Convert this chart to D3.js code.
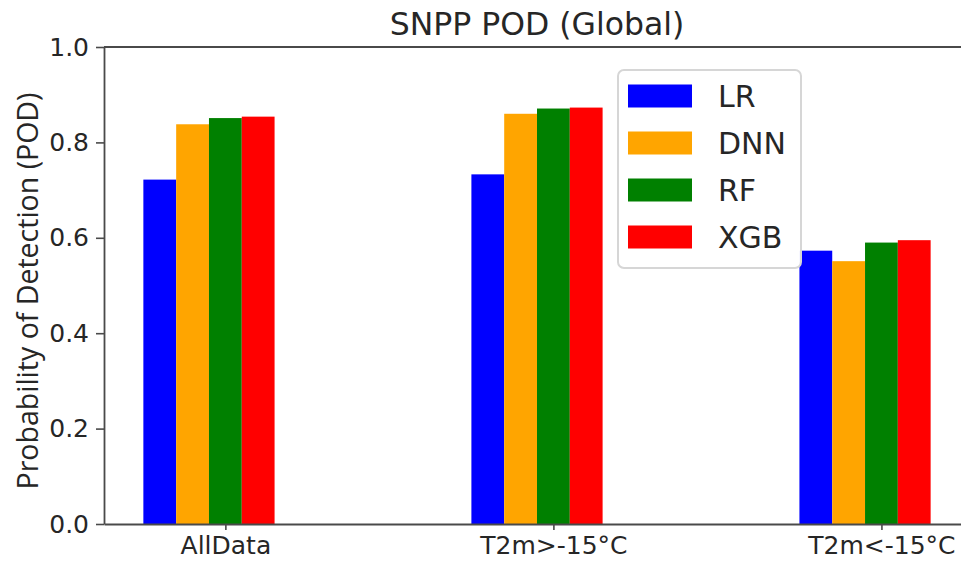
<!DOCTYPE html>
<html>
<head>
<meta charset="utf-8">
<script src="https://cdn.jsdelivr.net/npm/d3@7/dist/d3.min.js"></script>
<style>
  html, body { margin: 0; padding: 0; background: #fff; }
  svg { display: block; }
</style>
</head>
<body>
<svg id="chart" width="961" height="561"></svg>
<script>
const categories = ["AllData", "T2m>-15°C", "T2m<-15°C"];
const seriesNames = ["LR", "DNN", "RF", "XGB"];
const seriesColors = ["#0000ff", "#ffa500", "#008000", "#ff0000"];
const LR  = [0.722, 0.733, 0.573];
const DNN = [0.838, 0.860, 0.551];
const RF  = [0.851, 0.871, 0.590];
const XGB = [0.854, 0.873, 0.595];
const yTicks = [0.0, 0.2, 0.4, 0.6, 0.8, 1.0];
const titleText = "SNPP POD (Global)";
const yLabelText = "Probability of Detection (POD)";

const seriesValues = [LR, DNN, RF, XGB];
const barW = 0.1;

const svg = d3.select("#chart");
const mLeft = 104, mRight = 970, mTop = 47, mBottom = 524;

const x = d3.scaleLinear().domain([-0.37, 2.27]).range([mLeft, mRight]);
const y = d3.scaleLinear().domain([0, 1]).range([mBottom, mTop]);

const textColor = "#262626";
const axisColor = "#4a4a4a";

// bars
seriesValues.forEach((vals, j) => {
  svg.append("g").selectAll("rect")
    .data(vals)
    .join("rect")
    .attr("x", (d, i) => x(i + (j - 2) * barW - barW / 2))
    .attr("width", x(barW) - x(0))
    .attr("y", d => y(d))
    .attr("height", d => y(0) - y(d))
    .attr("fill", seriesColors[j]);
});

// spines
svg.append("line").attr("x1", mLeft).attr("x2", mRight).attr("y1", mTop).attr("y2", mTop)
  .attr("stroke", axisColor).attr("stroke-width", 1.8);
svg.append("line").attr("x1", mRight).attr("x2", mRight).attr("y1", mTop).attr("y2", mBottom)
  .attr("stroke", axisColor).attr("stroke-width", 1.8);

// y axis
const yAxis = d3.axisLeft(y).tickValues(yTicks).tickFormat(d3.format(".1f"))
  .tickSize(8).tickSizeOuter(0).tickPadding(7);
const gy = svg.append("g").attr("transform", `translate(${mLeft},0)`).call(yAxis);
gy.select(".domain").attr("stroke", axisColor).attr("stroke-width", 1.8);
gy.selectAll(".tick line").attr("stroke", axisColor).attr("stroke-width", 1.6);
gy.selectAll(".tick text").attr("fill", textColor)
  .style("font-family", "DejaVu Sans").style("font-size", "25px");

// x axis
const xAxis = d3.axisBottom(x).tickValues(categories.map((c, i) => i))
  .tickFormat(i => categories[i]).tickSize(6).tickSizeOuter(0).tickPadding(6);
const gx = svg.append("g").attr("transform", `translate(0,${mBottom})`).call(xAxis);
gx.select(".domain").attr("stroke", axisColor).attr("stroke-width", 1.8);
gx.selectAll(".tick line").attr("stroke", axisColor).attr("stroke-width", 1.6);
gx.selectAll(".tick text").attr("fill", textColor)
  .style("font-family", "DejaVu Sans").style("font-size", "25px");

// title
svg.append("text").attr("x", (mLeft + mRight) / 2).attr("y", 35)
  .attr("text-anchor", "middle").attr("fill", textColor)
  .style("font-family", "DejaVu Sans").style("font-size", "31.5px")
  .text(titleText);

// y label
svg.append("text")
  .attr("transform", `translate(38,291) rotate(-90)`)
  .attr("text-anchor", "middle").attr("fill", textColor)
  .style("font-family", "Open Sans").style("font-size", "28.5px")
  .text(yLabelText);

// legend
const lg = svg.append("g").attr("transform", "translate(618,70)");
lg.append("rect").attr("x", 0).attr("y", 0).attr("width", 183).attr("height", 198)
  .attr("rx", 6).attr("ry", 6)
  .attr("fill", "#fff").attr("fill-opacity", 0.95)
  .attr("stroke", "#d6d6d6").attr("stroke-width", 2);
seriesNames.forEach((name, j) => {
  const cy = 26 + j * 47;
  lg.append("rect").attr("x", 10).attr("y", cy - 11.5).attr("width", 64).attr("height", 23)
    .attr("fill", seriesColors[j]);
  lg.append("text").attr("x", 100).attr("y", cy).attr("dy", "0.36em")
    .attr("fill", textColor)
    .style("font-family", "DejaVu Sans").style("font-size", "30px")
    .text(name);
});
</script>
</body>
</html>
